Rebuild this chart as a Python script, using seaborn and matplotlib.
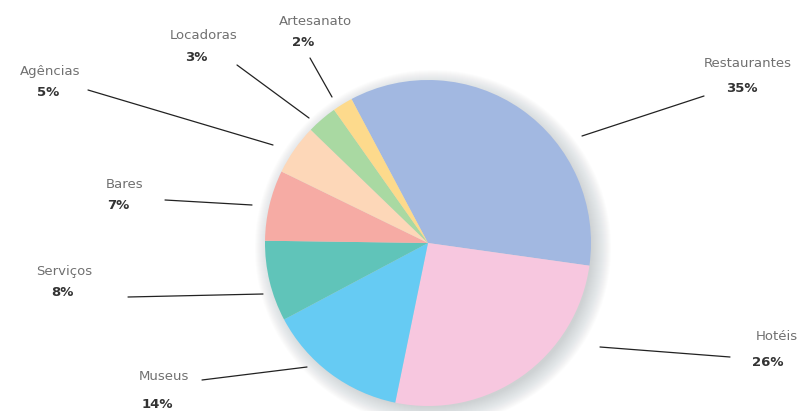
"""
Pie chart of tourism establishment categories.
"""

import matplotlib
matplotlib.use("Agg")
import matplotlib.pyplot as plt
from matplotlib.patches import Circle
import seaborn as sns

# Data
categories = ['Restaurantes', 'Hotéis', 'Museus', 'Serviços',
              'Bares', 'Agências', 'Locadoras', 'Artesanato']
shares = [35, 26, 14, 8, 7, 5, 3, 2]
pct_labels = [f"{v}%" for v in shares]

colors = ['#A2B8E1', '#F7C7DF', '#66CBF3', '#60C4B9',
          '#F6ABA4', '#FDD7B8', '#A9D9A2', '#FDDA8C']

# Layout in pixel space (x from left, y from top)
W, H = 810, 411
center_px = (428, 243)
radius_px = 163
# name position, percent position, leader start, leader end
label_layout = {
    'Restaurantes': ((748, 63), (742, 88), (704, 96), (582, 136)),
    'Hotéis': ((777, 337), (768, 362), (730, 357), (600, 347)),
    'Museus': ((164, 376), (157, 404), (202, 380), (307, 367)),
    'Serviços': ((64, 271), (62, 292), (128, 297), (263, 294)),
    'Bares': ((125, 184), (118, 205), (165, 200), (252, 205)),
    'Agências': ((50, 71), (48, 92), (88, 90), (273, 145)),
    'Locadoras': ((204, 35), (196, 57), (237, 65), (309, 118)),
    'Artesanato': ((315, 21), (303, 42), (310, 58), (332, 97)),
}

sns.set_theme(style="white")
plt.rcParams['font.family'] = ['DejaVu Sans']

fig = plt.figure(figsize=(W / 100, H / 100), dpi=100)
ax = fig.add_axes([0, 0, 1, 1])


def to_xy(p):
    return p[0], H - p[1]


cx, cy = to_xy(center_px)

# Soft shadow around the pie, mostly to the lower right
for i in range(20):
    ax.add_patch(Circle((cx + 5, cy - 5), radius_px - 4 + i * 1.0,
                        color='#8f9ba0', alpha=0.025, lw=0, zorder=1))

palette = sns.color_palette(colors)
ax.pie(shares, colors=palette, startangle=118, counterclock=False,
       center=(cx, cy), radius=radius_px, frame=True,
       wedgeprops=dict(linewidth=0, zorder=2))
ax.set_xlim(0, W)
ax.set_ylim(0, H)
ax.set_aspect('equal')
ax.axis('off')

for name, pct in zip(categories, pct_labels):
    name_pos, pct_pos, l0, l1 = label_layout[name]
    ax.text(*to_xy(name_pos), name, ha='center', va='center',
            fontsize=9.5, color='#707070', zorder=5)
    ax.text(*to_xy(pct_pos), pct, ha='center', va='center',
            fontsize=9.5, fontweight='bold', color='#333333', zorder=5)
    x0, y0 = to_xy(l0)
    x1, y1 = to_xy(l1)
    ax.plot([x0, x1], [y0, y1], color='#222222', lw=0.9, zorder=4)

plt.savefig('out.png', dpi=100)
